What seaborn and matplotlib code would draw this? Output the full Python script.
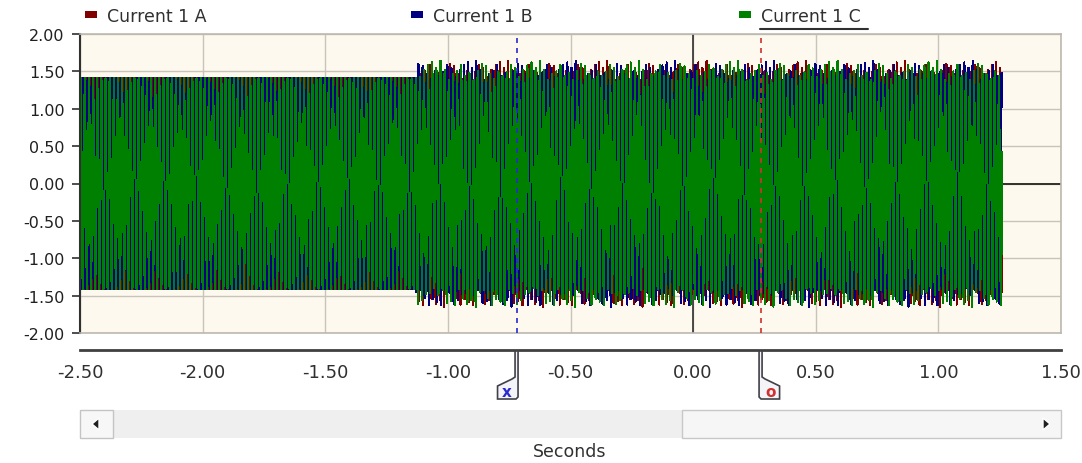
import numpy as np
import pandas as pd
import matplotlib
matplotlib.use("Agg")
import matplotlib.pyplot as plt
import seaborn as sns
from matplotlib.patches import Rectangle, Polygon

# ---------------- data ----------------
series_names = ["Current 1 A", "Current 1 B", "Current 1 C"]
phase_angle_deg = [0.0, -120.0, 120.0]
frequency_hz = 59.3
sample_rate_hz = 7680.0
record_start_s = -2.50
fault_time_s = -1.13
record_end_s = 1.26
prefault_peak = 1.41
# peak value of each post-fault half cycle, read from the spiky envelope
postfault_peaks = [1.58, 1.46, 1.62, 1.40, 1.55, 1.49, 1.64, 1.43, 1.52, 1.60,
                   1.38, 1.57, 1.47, 1.63, 1.50, 1.41, 1.59, 1.54, 1.44, 1.61,
                   1.48, 1.56, 1.39, 1.65, 1.51, 1.45, 1.60, 1.42, 1.57, 1.53,
                   1.47, 1.62, 1.40, 1.55, 1.50, 1.58, 1.44, 1.63, 1.49, 1.41,
                   1.59, 1.46, 1.54, 1.61, 1.43, 1.56, 1.52, 1.48]
cursor_times_s = [-0.72, 0.275]
cursor_marks = ["x", "o"]
y_ticks = [2.0, 1.5, 1.0, 0.5, 0.0, -0.5, -1.0, -1.5, -2.0]
x_ticks = [-2.5, -2.0, -1.5, -1.0, -0.5, 0.0, 0.5, 1.0, 1.5]
x_label = "Seconds"

# ---------------- styles ----------------
series_colors = ["#800000", "#000080", "#008000"]
cursor_colors = ["#2a2ad0", "#d03030"]
W, H = 1082, 464

sns.set_style("white")
plt.rcParams["font.family"] = ["DejaVu Sans"]

# build waveform table
t = np.arange(record_start_s, record_end_s, 1.0 / sample_rate_hz)
frames = []
for i, name in enumerate(series_names):
    theta = 2 * np.pi * frequency_hz * t + np.deg2rad(phase_angle_deg[i])
    half = np.floor(theta / np.pi).astype(int)
    peaks = np.asarray(postfault_peaks)[(half + 16 * i) % len(postfault_peaks)]
    amp = np.where(t < fault_time_s, prefault_peak, peaks)
    frames.append(pd.DataFrame({"t": t, "value": amp * np.sin(theta), "series": name}))
df = pd.concat(frames, ignore_index=True)

fig = plt.figure(figsize=(W / 100, H / 100), dpi=100)
fig.patch.set_facecolor("white")


def P(xp, yp):
    return (xp / W, 1 - yp / H)


ax = fig.add_axes([80 / W, 1 - 334 / H, (1061 - 80) / W, (334 - 35) / H])
ax.set_facecolor("#fdf9ee")
ax.set_xlim(x_ticks[0], x_ticks[-1])
ax.set_ylim(y_ticks[-1], y_ticks[0])
ax.set_xticks(x_ticks)
ax.set_yticks(y_ticks)
ax.grid(True, color="#c9c4ba", linewidth=1.0, zorder=0)
ax.set_axisbelow(True)
ax.axhline(0, color="#303030", linewidth=1.4, zorder=1)
ax.axvline(0, color="#303030", linewidth=1.2, zorder=1)

sns.lineplot(data=df, x="t", y="value", hue="series", hue_order=series_names,
             palette=series_colors, estimator=None, sort=False, linewidth=0.72,
             antialiased=False, legend=False, ax=ax, zorder=2)

for ct, cc in zip(cursor_times_s, cursor_colors):
    ax.axvline(ct, color=cc, linewidth=1.2, linestyle=(0, (3, 3)), zorder=3)

ax.set_xlabel("")
ax.set_ylabel("")
ax.tick_params(axis="x", bottom=False, labelbottom=False)
ax.tick_params(axis="y", left=True, length=6, width=1.2, color="#303030",
               labelsize=11.5, labelcolor="#202020", pad=5)
ax.set_yticklabels([f"{v:.2f}" for v in y_ticks])
for s in ["top", "right", "bottom"]:
    ax.spines[s].set_color("#bdb8ae")
    ax.spines[s].set_linewidth(1.2)
ax.spines["left"].set_color("#303030")
ax.spines["left"].set_linewidth(1.5)

# separate time axis below the plot
axx = fig.add_axes([80 / W, 1 - 351 / H, (1061 - 80) / W, 0.0001])
axx.set_xlim(x_ticks[0], x_ticks[-1])
axx.set_xticks(x_ticks)
axx.set_xticklabels([f"{v:.2f}" for v in x_ticks])
axx.set_yticks([])
for s in ["top", "right", "left"]:
    axx.spines[s].set_visible(False)
axx.spines["bottom"].set_color("#404040")
axx.spines["bottom"].set_linewidth(2.0)
axx.tick_params(axis="x", direction="out", length=5, width=1.5, color="#404040",
                labelsize=13, labelcolor="#303030", pad=4)
axx.patch.set_alpha(0)

# cursor flags
for ct, mark, cc in zip(cursor_times_s, cursor_marks, cursor_colors):
    xc = ax.transData.transform((ct, 0))[0]
    s = -1 if mark == "x" else 1
    x_out, x_in = xc - 1.5 * s, xc + 1.5 * s
    pts = [(x_out, 352), (x_out, 398), (x_out + 2 * s, 400), (xc + 19 * s, 400),
           (xc + 19 * s, 387), (x_in + 3 * s, 380), (x_in, 378), (x_in, 352)]
    fig.patches.append(Polygon([P(*p) for p in pts], closed=True, facecolor="#f4f4f8",
                               edgecolor="#404048", linewidth=1.2,
                               transform=fig.transFigure, figure=fig))
    fig.text(*P(xc + 10 * s, 393), mark, color=cc, fontsize=11, fontweight="bold",
             ha="center", va="center")

# scrollbar
fig.patches.append(Rectangle(P(80, 439), 981 / W, 28 / H, facecolor="#efefef",
                             edgecolor="none", transform=fig.transFigure, figure=fig))
fig.patches.append(Rectangle(P(682, 439), (1061 - 682) / W, 28 / H, facecolor="#f6f6f6",
                             edgecolor="#c8c8c8", linewidth=1.0,
                             transform=fig.transFigure, figure=fig))
fig.patches.append(Rectangle(P(80, 439), 33 / W, 28 / H, facecolor="#f7f7f7",
                             edgecolor="#c4c4c4", linewidth=1.0,
                             transform=fig.transFigure, figure=fig))
fig.patches.append(Polygon([P(92, 425), P(99, 419), P(99, 431)], closed=True,
                           facecolor="#202020", transform=fig.transFigure, figure=fig))
fig.patches.append(Polygon([P(1050, 425), P(1043, 419), P(1043, 431)], closed=True,
                           facecolor="#202020", transform=fig.transFigure, figure=fig))
fig.text(*P(570, 452), x_label, fontsize=12.5, color="#303030", ha="center", va="center")

# legend
legend_x = [85, 411, 739]
for name, col, lx in zip(series_names, series_colors, legend_x):
    fig.patches.append(Rectangle(P(lx, 19), 12 / W, 7 / H, facecolor=col,
                                 edgecolor="none", transform=fig.transFigure, figure=fig))
    fig.text(*P(lx + 22, 16.5), name, fontsize=12.5, color="#303030", ha="left",
             va="center")
fig.add_artist(plt.Line2D([760 / W, 868 / W], [1 - 30 / H, 1 - 30 / H],
                          color="#303030", linewidth=1.5, transform=fig.transFigure))

fig.savefig("out.png", dpi=100, facecolor="white")
